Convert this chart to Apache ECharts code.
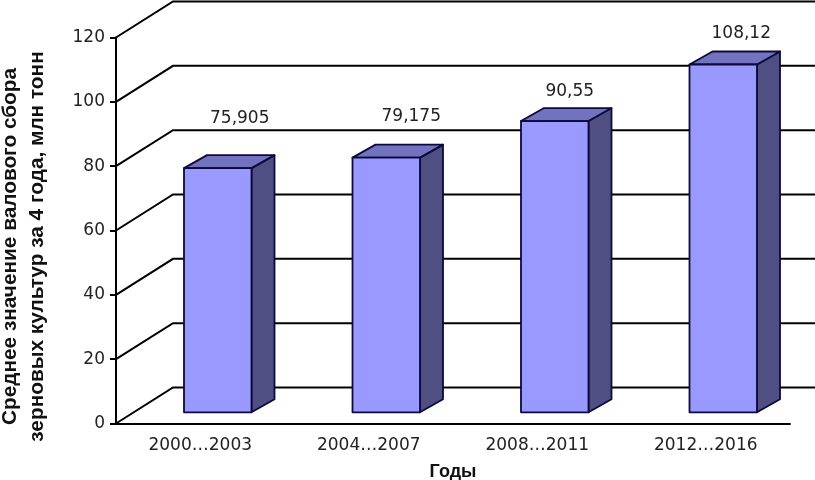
<!DOCTYPE html>
<html><head><meta charset="utf-8">
<style>html,body{margin:0;padding:0;background:#fff}#c{width:815px;height:480px}</style>
<script src="https://cdn.jsdelivr.net/npm/echarts@6/dist/echarts.min.js"></script>
</head><body><div id="c"></div>
<script>
const categories = ['2000…2003','2004…2007','2008…2011','2012…2016'];
const values = [75.905, 79.175, 90.55, 108.12];
const valueLabels = ['75,905','79,175','90,55','108,12'];
const gridTicks = [0,20,40,60,80,100,120];

const WALL = {dx:57, dy:-36};
const BAR = {shiftX:17.5, shiftY:-11.2, dx:23, dy:-13, width:67.5};
const labelNudge = [[22,-50],[25,-41],[15,-29],[18,-31]];
const EDGE = '#0a0a3c';
const FONT = '"Liberation Sans", Arial, sans-serif';
const TICKFONT = '"DejaVu Sans"';

const chart = echarts.init(document.getElementById('c'), null, {renderer:'canvas'});
chart.setOption({
  animation:false,
  backgroundColor:'#fff',
  grid:{left:116,right:25,top:37.5,bottom:56.5,containLabel:false,outerBoundsMode:'none'},
  xAxis:{type:'category',data:categories,
    axisLine:{lineStyle:{color:'#000',width:2}},
    axisTick:{length:6,lineStyle:{color:'#000',width:2}},
    axisLabel:{color:'#222',fontFamily:TICKFONT,fontSize:17,margin:14},
    name:'Годы',nameLocation:'middle',nameGap:40,
    nameTextStyle:{color:'#111',fontFamily:FONT,fontWeight:'bold',fontSize:18}},
  yAxis:{type:'value',min:0,max:120,interval:20,
    axisLine:{show:true,lineStyle:{color:'#000',width:2}},
    axisTick:{show:true,length:6,lineStyle:{color:'#000',width:2}},
    splitLine:{show:false},
    axisLabel:{color:'#222',fontFamily:TICKFONT,fontSize:17,margin:11,padding:[2,0,0,0]}},
  graphic:[{type:'text',x:23.5,y:246.5,rotation:Math.PI/2,z:10,
    style:{text:'Среднее значение валового сбора\nзерновых культур за 4 года, млн тонн',
      fill:'#111',font:'bold 20.8px '+FONT,textAlign:'center',textVerticalAlign:'middle',lineHeight:27}}],
  series:[
    {type:'custom',z:1,data:gridTicks.map(t=>[0,t]),silent:true,
     renderItem(params,api){
       const p=api.coord([0,api.value(1)]);
       const x0=params.coordSys.x, y=p[1];
       return {type:'polyline',shape:{points:[[x0,y],[x0+WALL.dx,y+WALL.dy],[x0+800,y+WALL.dy]]},
         style:{stroke:'#000',lineWidth:2,fill:null}};
     }},
    {type:'custom',z:3,data:values.map((v,i)=>[i,v]),silent:true,
     renderItem(params,api){
       const i=api.value(0),top=api.coord([i,api.value(1)]),base=api.coord([i,0]);
       const cx=top[0]+BAR.shiftX,w=BAR.width/2;
       const yt=top[1]+BAR.shiftY,yb=base[1]+BAR.shiftY;
       const L=cx-w,R=cx+w,d=BAR.dx,h=BAR.dy;
       const s={stroke:EDGE,lineWidth:1.8,lineJoin:'round'};
       return {type:'group',children:[
         {type:'polygon',shape:{points:[[R,yb],[R+d,yb+h],[R+d,yt+h],[R,yt]]},style:{...s,fill:'#4f4f84'}},
         {type:'polygon',shape:{points:[[L,yt],[L+d,yt+h],[R+d,yt+h],[R,yt]]},style:{...s,fill:'#7272bf'}},
         {type:'rect',shape:{x:L,y:yt,width:R-L,height:yb-yt},style:{...s,fill:'#9999ff'}},
         {type:'text',x:cx+labelNudge[i][0],y:yt+labelNudge[i][1],
          style:{text:valueLabels[i],fill:'#222',font:'17px '+TICKFONT,textAlign:'center',textVerticalAlign:'middle'}}
       ]};
     }}
  ]
});
</script></body></html>
